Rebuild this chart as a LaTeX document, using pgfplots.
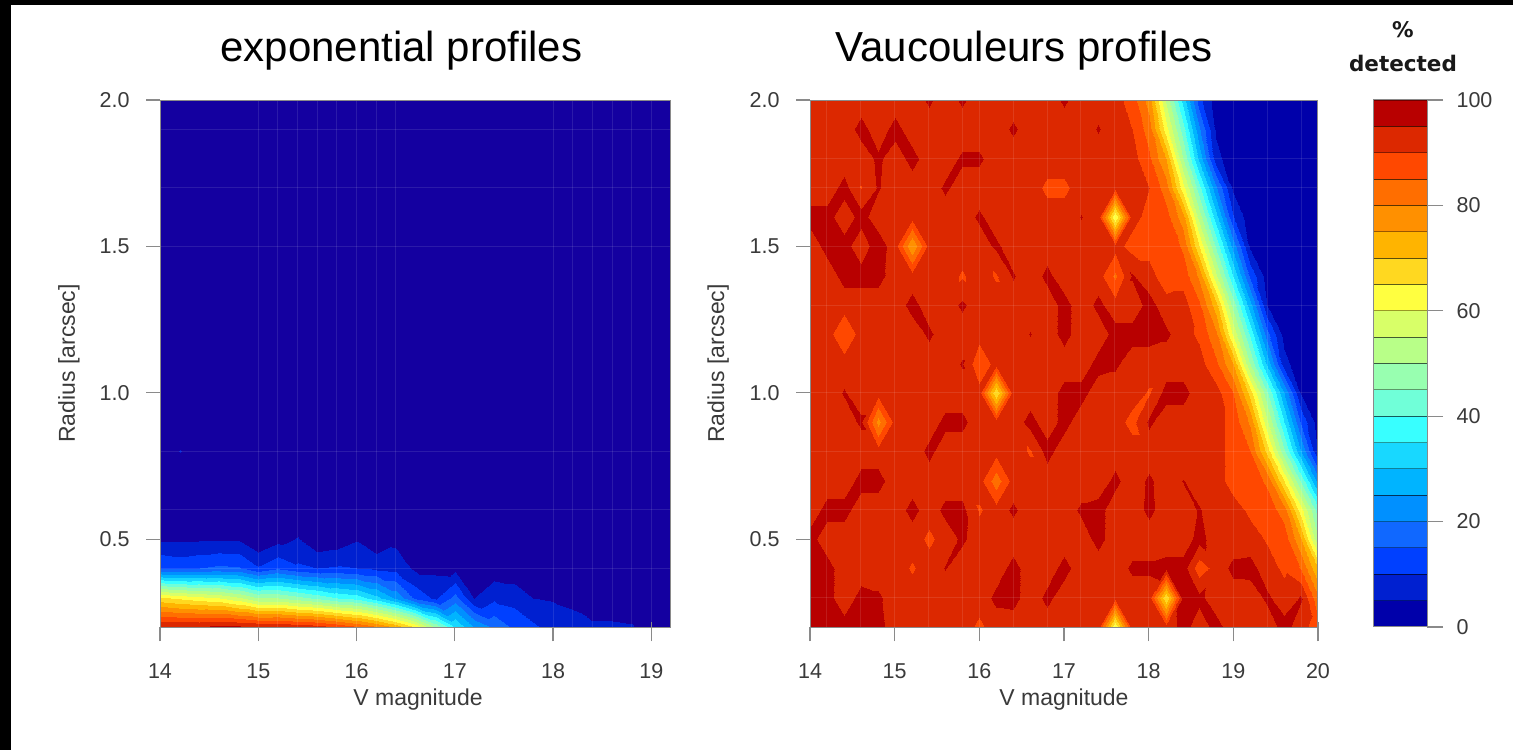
\documentclass[border=0pt]{standalone}
\usepackage{fontspec}
\setmainfont{Liberation Sans}
\newfontfamily\dejab{DejaVu Sans}[BoldFont={* Bold}]
\usepackage{pgfplots}
\usepgfplotslibrary{patchplots}
\pgfplotsset{compat=1.18}
\definecolor{lab}{HTML}{3A3A3A}
\definecolor{frm}{HTML}{8A8A8A}
\definecolor{c0}{HTML}{0000AA}\definecolor{c1}{HTML}{0020D0}\definecolor{c2}{HTML}{0040FF}\definecolor{c3}{HTML}{1068FF}
\definecolor{c4}{HTML}{0090FF}\definecolor{c5}{HTML}{00B4FF}\definecolor{c6}{HTML}{18D8FF}\definecolor{c7}{HTML}{38FFFF}
\definecolor{c8}{HTML}{70FFD8}\definecolor{c9}{HTML}{98FFB0}\definecolor{c10}{HTML}{B8FF88}\definecolor{c11}{HTML}{D8FF68}
\definecolor{c12}{HTML}{FFFF40}\definecolor{c13}{HTML}{FFD820}\definecolor{c14}{HTML}{FFB400}\definecolor{c15}{HTML}{FF9000}
\definecolor{c16}{HTML}{FF6E00}\definecolor{c17}{HTML}{FF4800}\definecolor{c18}{HTML}{DC2800}\definecolor{c19}{HTML}{B80000}
\pgfplotsset{
 colormap={bandsR}{color=(c0) color=(c1) color=(c2) color=(c3) color=(c4) color=(c5) color=(c6) color=(c7) color=(c8) color=(c9) color=(c10) color=(c11) color=(c12) color=(c13) color=(c14) color=(c15) color=(c16) color=(c17) color=(c18) color=(c19)},
 colormap={bandsL}{rgb255=(20,0,160) color=(c1) color=(c2) color=(c3) color=(c4) color=(c5) color=(c6) color=(c7) color=(c8) color=(c9) color=(c10) color=(c11) color=(c12) color=(c13) color=(c14) color=(c15) color=(c16) color=(c17) color=(c18) color=(c19)},
 panel/.style={
  scale only axis, height=527pt, view={0}{90},
  ymin=0.2, ymax=2, ytick={0.5,1,1.5,2}, yticklabels={0.5,1.0,1.5,2.0},
  tick align=outside, major tick length=14pt, axis on top,
  axis line style={frm,line width=1pt},
  tick style={frm,line width=1.2pt},
  x tick style={frm,line width=1.2pt,shorten >=-5pt},
  minor tick style={draw=none,shorten >=0pt},
  xtick pos=bottom, ytick pos=left,
  tick label style={font=\fontsize{21.5}{24}\selectfont,text=lab},
  /pgf/number format/assume math mode=true,
  xticklabel shift=19pt, yticklabel shift=13pt,
  minor tick length=0pt,
  xminorgrids, yminorgrids,
  minor grid style={white,opacity=0.1,line width=0.9pt},
  point meta min=0, point meta max=100,
  xlabel={V magnitude}, ylabel={Radius [arcsec]},
  every axis x label/.style={at={(axis description cs:0.505,-0.137)},anchor=center,font=\fontsize{23}{25}\selectfont,text=lab},
  every axis y label/.style={at={(axis description cs:-0.178,0.5)},anchor=center,rotate=90,font=\fontsize{23}{25}\selectfont,text=lab},
 },
}
\newcommand{\band}[3]{\addplot[fill=#1,draw=black,draw opacity=0.4,line width=0.9pt] coordinates {(0,#2)(1,#2)(1,#3)(0,#3)} --cycle;}
% values of the two grids, row by row from radius 2.0 down to 0.2, V magnitude increasing by 0.2
\def\dataL{%
0,0,0,0,0,0,0,0,0,0,0,0,0,0,0,0,0,0,0,0,0,0,0,0,0,0,0,
0,0,0,0,0,0,0,0,0,0,0,0,0,0,0,0,0,0,0,0,0,0,0,0,0,0,0,
0,0,0,0,0,0,0,0,0,0,0,0,0,0,0,0,0,0,0,0,0,0,0,0,0,0,0,
0,0,0,0,0,0,0,0,0,0,0,0,0,0,0,0,0,0,0,0,0,0,0,0,0,0,0,
0,0,0,0,0,0,0,0,0,0,0,0,0,0,0,0,0,0,0,0,0,0,0,0,0,0,0,
0,0,0,0,0,0,0,0,0,0,0,0,0,0,0,0,0,0,0,0,0,0,0,0,0,0,0,
0,0,0,0,0,0,0,0,0,0,0,0,0,0,0,0,0,0,0,0,0,0,0,0,0,0,0,
0,0,0,0,0,0,0,0,0,0,0,0,0,0,0,0,0,0,0,0,0,0,0,0,0,0,0,
0,0,0,0,0,0,0,0,0,0,0,0,0,0,0,0,0,0,0,0,0,0,0,0,0,0,0,
0,0,0,0,0,0,0,0,0,0,0,0,0,0,0,0,0,0,0,0,0,0,0,0,0,0,0,
0,0,0,0,0,0,0,0,0,0,0,0,0,0,0,0,0,0,0,0,0,0,0,0,0,0,0,
0,0,0,0,0,0,0,0,0,0,0,0,0,0,0,0,0,0,0,0,0,0,0,0,0,0,0,
0,5.3,0,0,0,0,0,0,0,0,0,0,0,0,0,0,0,0,0,0,0,0,0,0,0,0,0,
0,0,0,0,0,0,0,0,0,0,0,0,0,0,0,0,0,0,0,0,0,0,0,0,0,0,0,
0.5,0.5,0.5,0.5,0.5,0.2,0.3,2,0.2,0.2,0.5,0,0,0,0,0,0,0,0,0,0,0,0,0,0,0,0,
4.3,4.2,4.3,4.5,4.5,0.5,3.5,5.3,1,2,4.5,1,3.6,1,1,1,0.5,0.2,0.2,0.2,0.2,0.2,0.2,0.2,0.2,0.2,0.2,
15,14,15,16,15.5,10.5,14,11,10,10.5,10,9,8,4,3.8,3.5,2.5,2,1.8,1.2,1,0.8,0.5,0.5,0.5,0.2,0.2,
66,64,62,60,56,50,50,47,44,40,38,32,24,14,9,17,5,9,8,5,4.6,4,2,2,2.2,1,0.8,
95,95.5,95.8,96.5,96.5,95.5,96,94,93,90,86,81,74,65,50,35,25,19,14,11,8,6.5,5.8,5.8,5.4,2,1.5}
\def\dataR{%
92,92,90,92,92,92,92,96,92,96,92,92,92,92,92,96,92,92,92,87.5,77.5,54,33,12,2,0.2,0,0,0,0,0,
92,92,92,97,92,97,92,92,92,92,92,92,96,92,92,92,92,95.5,92,90,82.5,62,42,21,4,0.6,0,0,0,0,0,
92,92,92,92,96,92,97,92,92,96,96,92,92,92,92,92,92,92,92,92,86,75,50,29,7,1,0,0,0,0,0,
92,92,97,89.8,95.5,92,92,92,96,92,92,92,92,92,89,89,92,92,92,92,90,82.5,62,42,21,4,0.6,0,0,0,0,
97,97,92,97,92,92,92,92,92,92,96,92,92,92,92,92,95.3,92,60,92,88,87,77,53,32,10.5,1.7,0.2,0,0,0,
92,97,97,92,98,92,75,92,92,92,92,96,92,92,92,92,92,92,92,88,88,89,84,65,44,23,4,0.7,0,0,0,
92,92,97,97,97,92,92,92,92,89.5,92,89.5,95.5,92,96.5,92,92,92,84,95.5,92,87,88,79,56,35,14,2.4,0.3,0,0,
92,92,92,92,92,92,97,92,92,96,92,92,92,92,92,97,92,96.5,92,92,97,92,92,86,72,48,27,5,0.9,0,0,
92,92,86,92,92,92,92,96,92,92,92,92,92,95.3,92,97,92,92,97,97,97,96,92,89,81,59,39,17,3,0.4,0,
92,92,92,92,92,92,92,92,92,95.5,86,92,92,92,92,92,92,97,96,92,92,92,92,92,86,75,50,29,7,1,0,
92,92,95.5,92,92,92,92,92,92,92,92,65,92,92,92,97,97,92,92,92,89.5,97,97,92,92,85,68,46,25,4.5,0.8,
92,92,92,96,78,92,92,92,96.5,96.5,92,92,92,97,92,97,92,92,92,88.5,96,92,92,92,92,88,79,56,35,14,2.4,
92,92,92,92,92,92,92,96.5,92,92,92,92,92,89.5,97,92,92,92,92,92,92,92,92,92,92,88,85,68,46,25,4.5,
92,92,92,97,97,92,92,92,92,92,92,82,92,92,92,92,92,92,96.5,92,96,92,95.2,92,92,88,88,84,65,44,23,
92,97,97,92,92,92,97,92,96.5,96.5,89.5,92,96,92,92,92,96,97,92,92,96.5,92,92,95.5,92,92,89,88,82.5,62,42,
97,92,92,92,92,92,92,89,92,96,92,92,92,92,92,92,92,97,92,92,92,92,92,97,92,92,92,89.5,88,75,50,
97,97,92,92,92,92,89.5,92,95.3,92,92,92,97,92,92,97,92,92,92,96,96,97,97,87,92,96.5,97,92,89,84.5,70,
97,97,92,97,96,92,92,92,92,92,92,96.5,97,92,96.5,92,92,92,92,92,92,65,97,96.5,92,92,92,96,92,95.5,81,
97,97,97,97,97,92,92,92,92,92,89,92,92,92,92,92,92,92,60,92,92,92,97,92,97,92,92,92,97,92,87}
\newcommand{\mkdata}[2]{\foreach \v [count=\k from 0] in #2 {\expandafter\xdef\csname v#1\k\endcsname{\v}}}
% triangles of the grid cells, each cell cut along the diagonal that joins the closer values
\newcommand{\mktri}[2]{%
 \gdef\tri{}%
 \pgfmathtruncatemacro{\cmax}{#2-2}%
 \foreach \rr in {0,...,17}{%
  \gdef\rowstr{}%
  \foreach \cc in {0,...,\cmax}{%
   \edef\ia{\the\numexpr\rr*#2+\cc\relax}\edef\ib{\the\numexpr\rr*#2+\cc+1\relax}%
   \edef\ic{\the\numexpr\rr*#2+\cc+#2+1\relax}\edef\id{\the\numexpr\rr*#2+\cc+#2\relax}%
   \edef\va{\csname v#1\ia\endcsname}\edef\vb{\csname v#1\ib\endcsname}%
   \edef\vc{\csname v#1\ic\endcsname}\edef\vd{\csname v#1\id\endcsname}%
   \edef\nc{\the\numexpr\cc+1\relax}\edef\nr{\the\numexpr\rr+1\relax}%
   \edef\pa{\cc\space\rr\space\va\noexpand\\}\edef\pb{\nc\space\rr\space\vb\noexpand\\}%
   \edef\pc{\nc\space\nr\space\vc\noexpand\\}\edef\pd{\cc\space\nr\space\vd\noexpand\\}%
   \dimen0=\va pt \advance\dimen0 by -\vc pt \ifdim\dimen0<0pt \dimen0=-\dimen0\fi
   \dimen2=\vb pt \advance\dimen2 by -\vd pt \ifdim\dimen2<0pt \dimen2=-\dimen2\fi
   \def\diag{1}\ifdim\dimen0>\dimen2 \def\diag{2}\fi
   \ifdim\vb pt>95pt \ifdim\vd pt>95pt \def\diag{2}\fi\fi
   \ifdim\va pt>95pt \ifdim\vc pt>95pt \def\diag{1}\fi\fi
   \if1\diag
    \xdef\rowstr{\unexpanded\expandafter{\rowstr}\unexpanded\expandafter{\pa}\unexpanded\expandafter{\pb}\unexpanded\expandafter{\pc}\unexpanded\expandafter{\pa}\unexpanded\expandafter{\pc}\unexpanded\expandafter{\pd}}%
   \else
    \xdef\rowstr{\unexpanded\expandafter{\rowstr}\unexpanded\expandafter{\pa}\unexpanded\expandafter{\pb}\unexpanded\expandafter{\pd}\unexpanded\expandafter{\pb}\unexpanded\expandafter{\pc}\unexpanded\expandafter{\pd}}%
   \fi
  }%
  \xdef\tri{\unexpanded\expandafter{\tri}\unexpanded\expandafter{\rowstr}}%
 }%
 \global\expandafter\let\csname tri#1\endcsname\tri
}
\newcommand{\plotpanel}[1]{\addplot3[patch, contour filled={number=20}, point meta=z]
 table[row sep=\\, header=false, x expr={14+0.2*\thisrowno{0}}, y expr={2-0.1*\thisrowno{1}}, z index=2]{#1};}
\mkdata{L}{\dataL}%
\mkdata{R}{\dataR}%
\mktri{L}{27}%
\mktri{R}{31}%
\begin{document}%
\begin{tikzpicture}[x=1pt,y=1pt]
\path[use as bounding box] (0,0) rectangle (1513,750);
\fill[white] (0,0) rectangle (1513,750);
\fill[black] (0,745) rectangle (1513,750);
\fill[black] (0,0) rectangle (11,750);
\node[anchor=base west,font=\fontsize{42}{46}\selectfont] at (217,688) {exponential profiles};
\node[anchor=base west,font=\fontsize{42}{46}\selectfont] at (832,688) {Vaucouleurs profiles};
\node[font=\dejab\bfseries\fontsize{21.5}{24}\selectfont,text=black!90] at (1403,720) {\%};
\node[font=\dejab\bfseries\fontsize{21.5}{24}\selectfont,text=black!90] at (1403,687) {detected};

\begin{axis}[panel, at={(160pt,123pt)}, anchor=south west, width=511pt,
  xmin=14, xmax=19.2, xtick={14,15,16,17,18,19}, xticklabels={14,15,16,17,18,19},
  colormap name=bandsL,
  minor xtick={15,15.2,15.4,15.6,15.8,16,16.2,16.4,18,18.2,18.4,18.6,18.8,19},
  minor ytick={1.9,1.7,1.5,0.8,0.6,0.4}]
\expandafter\plotpanel\expandafter{\triL}
\end{axis}

\begin{axis}[panel, at={(810pt,123pt)}, anchor=south west, width=508pt,
  xmin=14, xmax=20, xtick={14,15,16,17,18,19,20}, xticklabels={14,15,16,17,18,19,20},
  colormap name=bandsR,
  every axis x label/.style={at={(axis description cs:0.5,-0.137)},anchor=center,font=\fontsize{23}{25}\selectfont,text=lab},
  every axis y label/.style={at={(axis description cs:-0.181,0.5)},anchor=center,rotate=90,font=\fontsize{23}{25}\selectfont,text=lab},
  minor xtick={14.2,14.6,15,15.4,15.8,16,16.4,16.8,17.2,17.6,18,19,19.4,19.8},
  minor ytick={1.8,1.7,1.5,1.3,1,0.8,0.6,0.3}]
\expandafter\plotpanel\expandafter{\triR}
\end{axis}

\begin{axis}[at={(1373pt,123pt)}, anchor=south west, scale only axis, width=54pt, height=527pt,
  xmin=0, xmax=1, ymin=0, ymax=100, xtick=\empty, ytick={0,20,40,60,80,100},
  ytick pos=right, yticklabel pos=right, tick align=outside, major tick length=16pt,
  axis on top, axis line style={frm,line width=1pt}, tick style={frm,line width=1.2pt},
  tick label style={font=\fontsize{21.5}{24}\selectfont,text=lab},
  /pgf/number format/assume math mode=true, yticklabel shift=10pt]
\band{c0}{0}{5}\band{c1}{5}{10}\band{c2}{10}{15}\band{c3}{15}{20}
\band{c4}{20}{25}\band{c5}{25}{30}\band{c6}{30}{35}\band{c7}{35}{40}
\band{c8}{40}{45}\band{c9}{45}{50}\band{c10}{50}{55}\band{c11}{55}{60}
\band{c12}{60}{65}\band{c13}{65}{70}\band{c14}{70}{75}\band{c15}{75}{80}
\band{c16}{80}{85}\band{c17}{85}{90}\band{c18}{90}{95}\band{c19}{95}{100}
\end{axis}
\end{tikzpicture}%
\end{document}
